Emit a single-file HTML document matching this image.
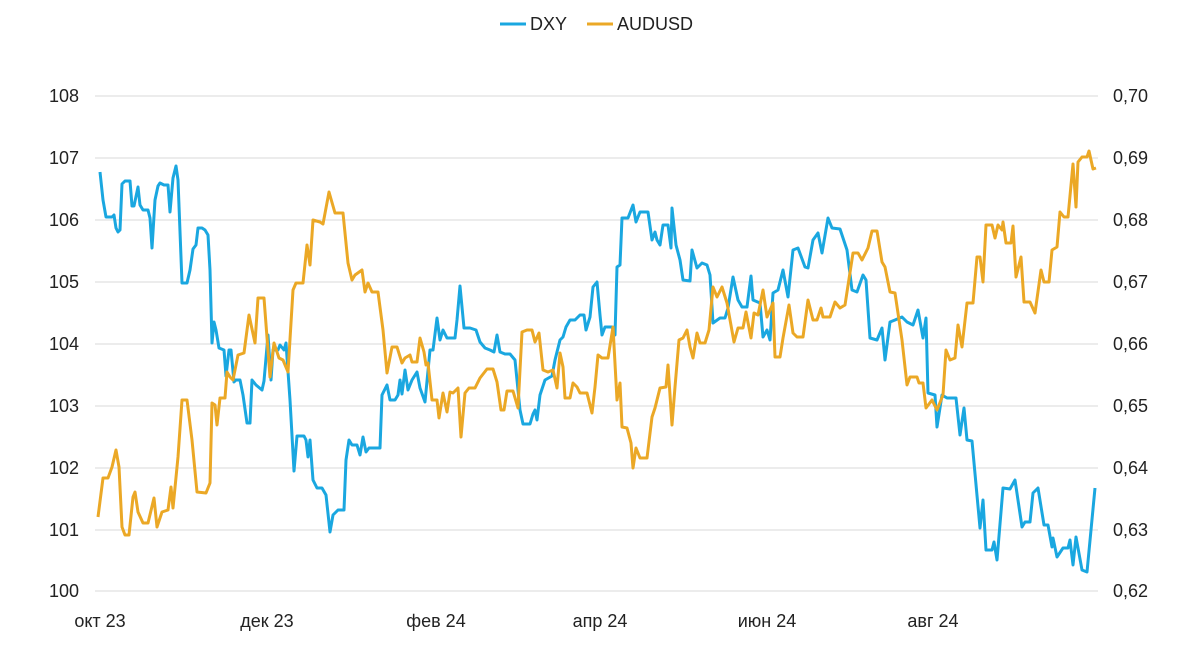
<!DOCTYPE html>
<html><head><meta charset="utf-8"><style>
html,body{margin:0;padding:0;background:#fff;}
svg{display:block;font-family:"Liberation Sans",sans-serif;}
</style></head><body>
<svg width="1200" height="666" viewBox="0 0 1200 666">
<g stroke="#d9d9d9" stroke-width="1">
<line x1="95" x2="1098" y1="96" y2="96"/><line x1="95" x2="1098" y1="158" y2="158"/>
<line x1="95" x2="1098" y1="220" y2="220"/><line x1="95" x2="1098" y1="282" y2="282"/>
<line x1="95" x2="1098" y1="344" y2="344"/><line x1="95" x2="1098" y1="406" y2="406"/>
<line x1="95" x2="1098" y1="468" y2="468"/><line x1="95" x2="1098" y1="530" y2="530"/>
<line x1="95" x2="1098" y1="591" y2="591"/>
</g>
<g font-size="18" fill="#222" text-anchor="end">
<text x="79" y="102">108</text><text x="79" y="164">107</text><text x="79" y="226">106</text>
<text x="79" y="288">105</text><text x="79" y="350">104</text><text x="79" y="412">103</text>
<text x="79" y="474">102</text><text x="79" y="536">101</text><text x="79" y="597">100</text>
</g>
<g font-size="18" fill="#222" text-anchor="start">
<text x="1113" y="102">0,70</text><text x="1113" y="164">0,69</text><text x="1113" y="226">0,68</text>
<text x="1113" y="288">0,67</text><text x="1113" y="350">0,66</text><text x="1113" y="412">0,65</text>
<text x="1113" y="474">0,64</text><text x="1113" y="536">0,63</text><text x="1113" y="597">0,62</text>
</g>
<g font-size="18" fill="#222" text-anchor="middle">
<text x="100" y="627">окт 23</text><text x="267" y="627">дек 23</text><text x="436" y="627">фев 24</text>
<text x="600" y="627">апр 24</text><text x="767" y="627">июн 24</text><text x="933" y="627">авг 24</text>
</g>
<g font-size="18" fill="#222">
<line x1="500" x2="526" y1="24" y2="24" stroke="#1aa7e0" stroke-width="3"/>
<text x="530" y="30">DXY</text>
<line x1="587" x2="613" y1="24" y2="24" stroke="#eba826" stroke-width="3"/>
<text x="617" y="30">AUDUSD</text>
</g>
<polyline fill="none" stroke="#1aa7e0" stroke-width="3" stroke-linejoin="round" points="100,172 103,200 106,217 112,217 114,215 116,228 118,232 120,230 122,184 125,181 130,181 132,206 134,206 138,187 140,205 143,210 148,210 150,218 152,248 155,200 158,186 160,183 164,185 168,185 170,212 173,178 176,166 178,180 182,283 187,283 190,270 193,249 196,245 198,228 202,228 205,230 208,235 210,270 212,343 214,322 216,330 219,348 224,350 226,376 229,350 231,350 234,382 236,380 240,380 243,395 247,423 250,423 252,380 256,385 262,390 264,381 268,335 271,380 273,350 278,350 280,345 284,350 286,343 290,400 294,471 297,436 304,436 306,440 308,457 310,440 313,480 317,488 322,488 326,495 330,532 333,515 338,510 344,510 346,460 349,440 352,445 357,445 360,455 363,437 366,452 369,448 380,448 382,395 387,385 390,400 395,400 398,395 400,380 402,394 405,370 408,390 412,380 417,372 420,388 425,402 430,350 433,350 437,318 440,340 443,330 447,338 455,338 457,320 460,286 464,328 470,328 476,330 480,342 485,348 490,350 494,352 497,335 500,352 505,354 510,354 515,360 520,410 523,424 530,424 533,414 535,410 537,420 540,395 545,380 552,376 555,360 560,340 563,337 566,327 570,320 575,320 580,315 584,315 586,330 590,317 593,287 597,282 600,315 602,335 605,327 612,327 615,335 617,267 620,265 622,218 628,218 633,205 636,222 640,212 648,212 652,240 655,232 657,240 660,245 663,225 668,225 671,248 672,208 676,245 680,260 683,280 690,281 692,250 697,268 702,263 707,265 710,275 713,323 720,318 725,318 728,308 733,277 738,300 742,307 747,307 751,276 753,300 760,303 763,337 767,330 770,340 773,293 778,290 783,270 788,297 793,250 798,248 805,267 808,268 813,240 818,233 822,253 828,218 832,228 840,229 847,250 852,290 857,292 863,275 866,280 870,338 877,340 882,328 885,360 890,322 895,320 902,317 907,322 913,325 918,310 923,338 926,318 928,393 935,395 937,427 942,395 947,398 956,398 960,435 964,408 967,440 972,441 980,528 983,500 986,550 992,550 994,542 997,560 1003,488 1010,489 1015,480 1022,527 1025,522 1030,522 1033,493 1038,488 1044,525 1048,525 1052,547 1053,538 1057,557 1063,548 1068,548 1070,540 1073,565 1076,537 1082,570 1087,572 1095,488"/>
<polyline fill="none" stroke="#eba826" stroke-width="3" stroke-linejoin="round" points="98,517 103,478 108,478 112,467 116,450 119,467 122,527 125,535 129,535 133,497 135,492 138,512 143,523 148,523 154,498 157,527 162,512 168,510 171,487 173,508 178,457 182,400 187,400 192,440 197,492 206,493 210,483 212,403 215,405 217,425 220,398 225,398 227,372 230,377 233,380 238,355 244,353 249,315 255,343 258,298 264,298 270,377 274,343 279,358 283,360 288,372 293,290 296,283 303,283 307,245 310,265 313,220 320,222 323,224 329,192 335,213 343,213 348,263 352,280 355,275 362,270 365,292 368,283 372,292 378,292 383,330 387,373 392,347 397,347 402,363 405,358 410,355 412,362 417,362 420,338 424,352 426,365 428,363 432,400 437,400 439,418 443,393 447,412 450,392 453,393 458,388 461,437 465,393 469,388 475,388 480,378 487,369 493,369 497,382 501,410 504,410 507,391 513,391 518,408 522,332 527,330 532,330 535,342 539,333 543,370 548,372 553,370 557,388 560,353 563,367 565,398 570,398 573,383 577,387 580,393 587,393 592,413 595,387 598,355 602,358 608,358 613,327 617,400 620,383 622,427 627,428 631,443 633,468 636,448 640,458 647,458 652,417 655,408 660,388 666,387 668,365 672,425 675,387 679,340 683,338 687,330 690,347 693,358 697,333 700,343 705,343 709,330 713,287 717,297 722,287 727,303 734,342 738,328 743,328 746,312 751,338 754,313 758,315 763,290 767,317 773,303 775,357 780,357 783,338 789,305 793,333 797,337 803,337 808,300 813,320 817,320 821,308 823,317 830,317 835,302 840,308 845,305 853,253 858,253 862,260 868,248 872,231 877,231 882,262 885,267 890,292 895,293 902,340 907,385 910,377 917,377 919,383 923,383 926,408 932,400 937,410 943,395 946,350 950,360 955,358 958,325 962,347 967,303 973,303 977,257 980,257 983,282 986,225 992,225 995,238 998,225 1002,230 1003,222 1006,243 1011,243 1013,226 1016,277 1021,257 1024,302 1030,302 1035,313 1041,270 1044,282 1049,282 1052,250 1057,247 1060,212 1064,217 1068,217 1073,164 1076,207 1078,162 1082,157 1087,157 1089,151 1093,169 1096,168"/>
</svg>
</body></html>
